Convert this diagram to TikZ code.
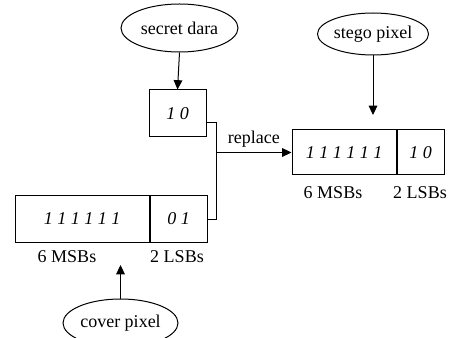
\documentclass[tikz,border=0pt]{standalone}
\usepackage{fontspec}
\setmainfont{Liberation Serif}
\usetikzlibrary{shapes.geometric,arrows.meta,positioning}
\newcommand{\figfont}{\rmfamily\fontsize{13.5}{16}\selectfont}

\begin{document}
\begin{tikzpicture}[x=0.75pt,y=0.75pt,yscale=-1,xscale=1,font=\figfont,line width=0.75pt,
  oval/.style={draw,ellipse,inner sep=0pt},
  bits/.style={draw,rectangle,inner sep=0pt,font=\figfont\itshape},
  arr/.style={-{Triangle[length=7pt,width=6.5pt]}}]
\useasboundingbox (0,0) rectangle (449,338);

%Shape: Ellipse [secret data]
\node [oval,minimum width=87.75pt,minimum height=36pt] (secret) at (179.5,28) {\raisebox{-3pt}{secret dara}};
%Shape: Rectangle [secret bits]
\node [bits,minimum width=42.75pt,minimum height=35.25pt] (sbits) at (177.5,113.5) {1 0};
%Shape: Rectangle [cover pixel]
\node [bits,minimum width=100.5pt,minimum height=34.5pt] (cmsb) at (82,219) {1 1 1 1 1 1};
\node [bits,minimum width=42.75pt,minimum height=34.5pt,right=0pt of cmsb] (clsb) {0 1};
\node (cmsblab) at (67,257) {6 MSBs};
\node (clsblab) at (177,257) {2 LSBs};
%Shape: Ellipse [cover pixel]
\node [oval,minimum width=86.25pt,minimum height=36pt] (cover) at (120.5,323) {cover pixel};
%Shape: Rectangle [stego pixel]
\node [bits,minimum width=78pt,minimum height=33.75pt] (smsb) at (344,152.5) {1 1 1 1 1 1};
\node [bits,minimum width=35.25pt,minimum height=33.75pt,right=0pt of smsb] (slsb) {1 0};
\draw [line width=1.3pt] (smsb.north east) -- (smsb.south east);
\node (smsblab) at (333,193) {6 MSBs};
\node (slsblab) at (420,193) {2 LSBs};
%Shape: Ellipse [stego pixel]
\node [oval,minimum width=78pt,minimum height=31.5pt] (stego) at (373,34) {stego pixel};

\coordinate (join) at (216,152.5);
\coordinate (stip) at (373,115);
\coordinate (ctip) at (120,265);

%Straight Lines
\draw [arr] (secret.south) -- (sbits.north);
\draw [arr] (stego.south) -- (stego.south |- stip);
\draw [arr] (cover.north) -- (cover.north |- ctip);
\draw ([yshift=7pt]sbits.east) -- ++(10,0) |- (clsb.east);
\draw [arr] (join) -- (smsb.west) node [midway,above] {replace};

\end{tikzpicture}
\end{document}
